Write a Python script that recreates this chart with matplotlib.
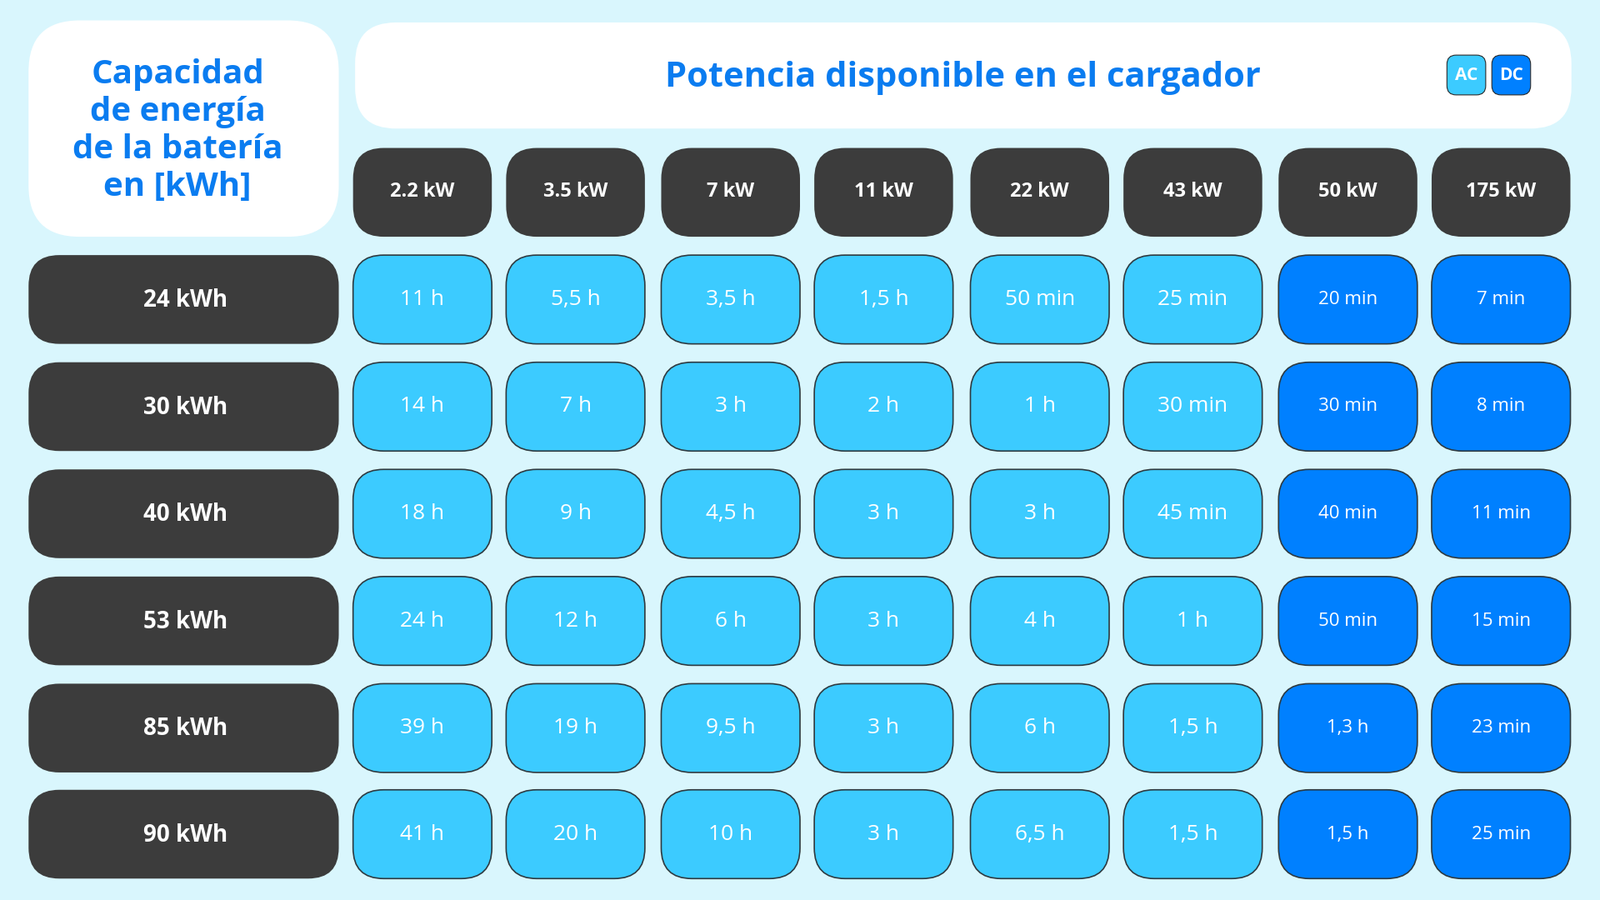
import matplotlib
matplotlib.use("Agg")
import matplotlib.pyplot as plt
from matplotlib.patches import FancyBboxPatch

plt.rcParams["font.family"] = "Open Sans"

power_labels = ["2.2 kW", "3.5 kW", "7 kW", "11 kW", "22 kW", "43 kW", "50 kW", "175 kW"]
power_type = ["AC", "AC", "AC", "AC", "AC", "AC", "DC", "DC"]
battery_labels = ["24 kWh", "30 kWh", "40 kWh", "53 kWh", "85 kWh", "90 kWh"]
times = [
    ["11 h", "5,5 h", "3,5 h", "1,5 h", "50 min", "25 min", "20 min", "7 min"],
    ["14 h", "7 h", "3 h", "2 h", "1 h", "30 min", "30 min", "8 min"],
    ["18 h", "9 h", "4,5 h", "3 h", "3 h", "45 min", "40 min", "11 min"],
    ["24 h", "12 h", "6 h", "3 h", "4 h", "1 h", "50 min", "15 min"],
    ["39 h", "19 h", "9,5 h", "3 h", "6 h", "1,5 h", "1,3 h", "23 min"],
    ["41 h", "20 h", "10 h", "3 h", "6,5 h", "1,5 h", "1,5 h", "25 min"],
]

BG = "#d9f6fd"
DARK = "#3c3c3c"
AC_COL = "#3ccbff"
DC_COL = "#0080ff"
TITLE_COL = "#0a7cf0"

col_x = [346, 496, 648, 798, 951, 1101, 1253, 1403]
col_w = 136
row_y = [250, 355, 460, 565, 670, 774]
row_h = 87


def box(ax, x, y, w, h, fc, r=28, ec="none", lw=0):
    ax.add_patch(FancyBboxPatch((x + r, y + r), w - 2 * r, h - 2 * r,
                                boxstyle="round,pad=%d" % r, fc=fc, ec=ec, lw=lw))


fig = plt.figure(figsize=(19.2, 10.8), dpi=100)
fig.patch.set_facecolor(BG)
ax = fig.add_axes([0, 0, 1, 1])
ax.set_xlim(0, 1568)
ax.set_ylim(882, 0)
ax.axis("off")

# top-left header
box(ax, 28, 20, 304, 212, "white", r=50)
ax.text(174, 128, "Capacidad\nde energía\nde la batería\nen [kWh]", ha="center", va="center",
        fontsize=29, fontweight="bold", color=TITLE_COL, linespacing=1.2)

# title bar
box(ax, 348, 22, 1192, 104, "white", r=40)
ax.text(944, 76, "Potencia disponible en el cargador", ha="center", va="center",
        fontsize=30, fontweight="bold", color=TITLE_COL)
box(ax, 1418, 54, 38, 39, AC_COL, r=9, ec="#2a2a2a", lw=0.8)
ax.text(1437, 73.5, "AC", ha="center", va="center", fontsize=15, fontweight="bold", color="white")
box(ax, 1462, 54, 38, 39, DC_COL, r=9, ec="#2a2a2a", lw=0.8)
ax.text(1481, 73.5, "DC", ha="center", va="center", fontsize=15, fontweight="bold", color="white")

# power headers
for x, lab in zip(col_x, power_labels):
    box(ax, x, 145, col_w, 87, DARK, r=30)
    ax.text(x + col_w / 2, 188, lab, ha="center", va="center", fontsize=17,
            fontweight="bold", color="white")

# rows
for y, blab, vals in zip(row_y, battery_labels, times):
    box(ax, 28, y, 304, row_h, DARK, r=30)
    ax.text(182, y + row_h / 2 + 1, blab, ha="center", va="center", fontsize=20,
            fontweight="bold", color="white")
    for x, kind, v in zip(col_x, power_type, vals):
        fc = AC_COL if kind == "AC" else DC_COL
        box(ax, x, y, col_w, row_h, fc, r=30, ec="#2e3a40", lw=1.2)
        ax.text(x + col_w / 2, y + row_h / 2, v, ha="center", va="center",
                fontsize=19 if kind == "AC" else 16, color="white")

fig.savefig("out.png", dpi=100, facecolor=BG)
